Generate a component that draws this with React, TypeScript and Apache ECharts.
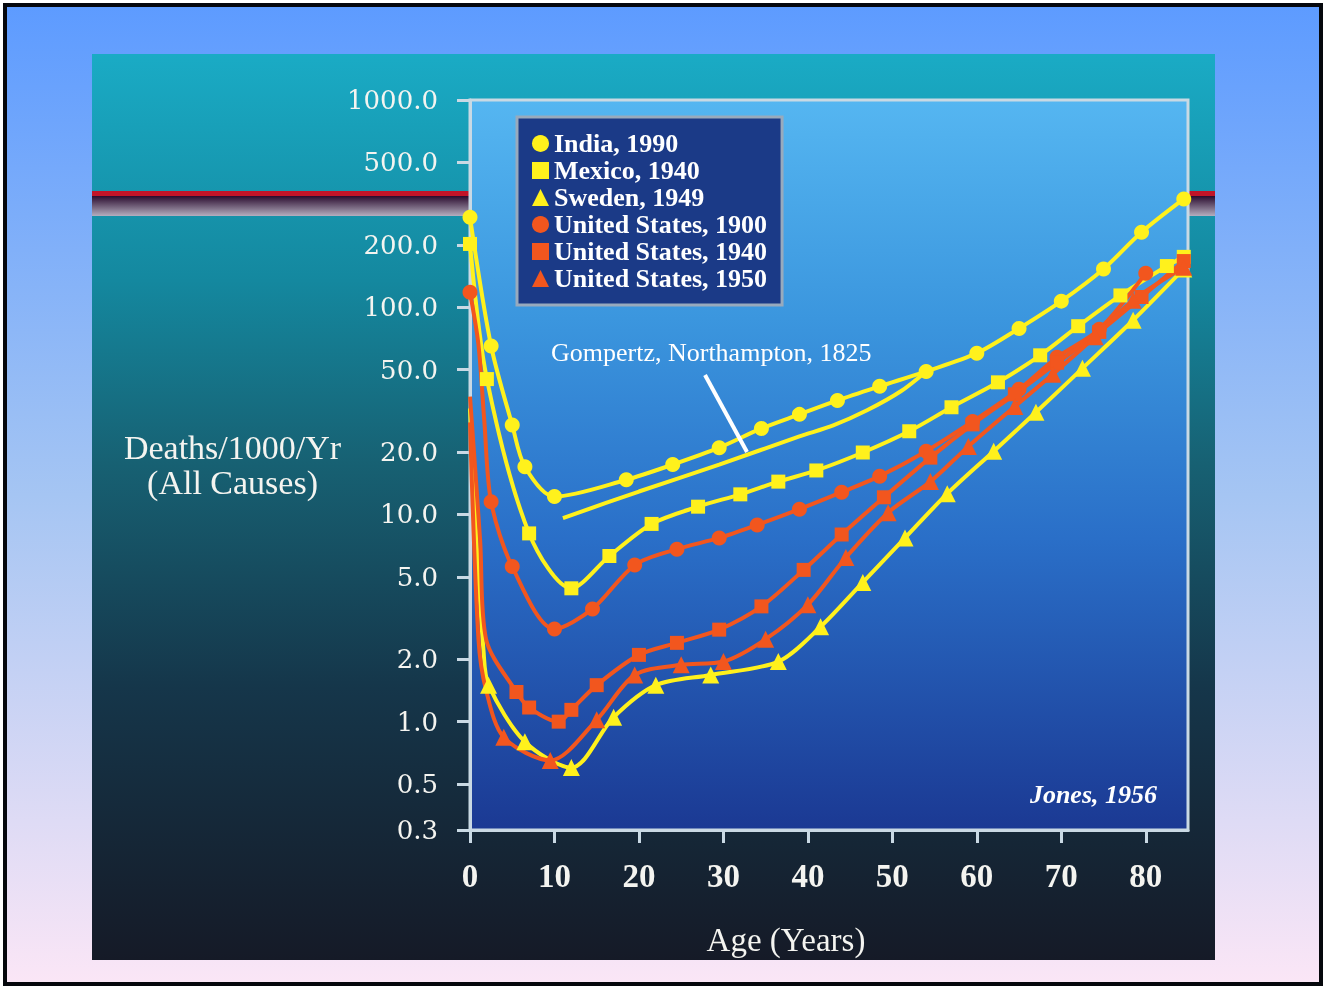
import React, { useEffect, useRef } from 'react';
import * as echarts from 'echarts';

// ---- tick values ----
const yTickValues = [0.3, 0.5, 1, 2, 5, 10, 20, 50, 100, 200, 500, 1000];
const xTickValues = [0, 10, 20, 30, 40, 50, 60, 70, 80];

// ---- series data (age in years, deaths per 1000 per year) ----
// points listed in *Hidden arrays are curve points read off the plot that carry no marker
const indiaAge = [0, 2.5, 5, 6.5, 10, 18.5, 24, 29.5, 34.5, 39, 43.5, 48.5, 54, 60, 65, 70, 75, 79.5, 84.5];
const indiaRate = [272, 65, 27, 17, 12.2, 14.7, 17.4, 21, 26, 30.4, 35.5, 41.5, 49, 60, 79, 107, 153, 230, 333];

const mexicoAge = [0, 2, 7, 12, 16.5, 21.5, 27, 32, 36.5, 41, 46.5, 52, 57, 62.5, 67.5, 72, 77, 82.5, 84.5];
const mexicoRate = [202, 45, 8.1, 4.4, 6.3, 9.0, 10.9, 12.5, 14.4, 16.3, 19.9, 25.2, 32.9, 43.4, 58.6, 81, 114, 158, 175];

const swedenAge = [0, 0.8, 1.6, 2.2, 6.5, 12, 17, 22, 28.5, 36.5, 41.5, 46.5, 51.5, 56.5, 62, 67, 72.5, 78.5, 84.5];
const swedenRate = [32.5, 7.1, 2.2, 1.5, 0.8, 0.6, 1.05, 1.5, 1.68, 1.95, 2.87, 4.7, 7.7, 12.6, 20.2, 31.1, 50.7, 86.5, 153];
const swedenHidden = [0, 1, 2];

const us1900Age = [0, 1, 1.7, 2.5, 5, 10, 14.5, 19.5, 24.5, 29.5, 34, 39, 44, 48.5, 54, 59.5, 65, 69.5, 74.5, 80];
const us1900Rate = [118, 66, 28, 11.5, 5.6, 2.8, 3.5, 5.7, 6.8, 7.7, 8.9, 10.6, 12.8, 15.3, 20.2, 28.1, 40.2, 57.3, 78.3, 146];
const us1900Hidden = [1, 2];

const us1940Age = [0, 1.2, 1.9, 5.5, 7, 10.5, 12, 15, 20, 24.5, 29.5, 34.5, 39.5, 44, 49, 54.5, 59.5, 64.5, 69.5, 74.5, 79.5, 84.5];
const us1940Rate = [37, 7.5, 2.5, 1.39, 1.17, 1.0, 1.14, 1.5, 2.1, 2.4, 2.78, 3.6, 5.4, 8.0, 12.1, 18.8, 27.2, 38, 54, 76, 112, 167];
const us1940Hidden = [0, 1, 2];

const us1950Age = [0, 1, 1.9, 4, 9.5, 15, 19.5, 25, 30, 35, 40, 44.5, 49.5, 54.5, 59, 64.5, 69, 74, 78.5, 84.5];
const us1950Rate = [27.8, 2.5, 1.42, 0.84, 0.65, 1.02, 1.68, 1.88, 1.95, 2.5, 3.67, 6.2, 10.2, 14.4, 21.3, 33.2, 47.5, 72, 108, 156];
const us1950Hidden = [0, 1, 2];

const gompertzAge = [11, 20, 29.5, 39, 43, 47, 51, 54];
const gompertzRate = [9.6, 12.9, 17.4, 23.8, 26.9, 31.8, 39.3, 49];

const YELLOW = '#fff11c';
const ORANGE = '#f2561e';
const AXIS = '#c9d9e4';
const SERIF = '"Liberation Serif", "Times New Roman", serif';
const WIDE_SERIF = '"DejaVu Serif", serif';

function pts(ages: number[], rates: number[], hidden: number[] = []) {
  return ages.map((a, i) =>
    hidden.indexOf(i) >= 0 ? { value: [a, rates[i]], symbol: 'none' } : [a, rates[i]]
  );
}

function lineSeries(name: string, color: string, symbol: string, size: number, data: any[]) {
  return {
    name,
    type: 'line',
    data,
    smooth: 0.3,
    symbol,
    symbolSize: size,
    showSymbol: true,
    clip: false,
    lineStyle: { color, width: 4 },
    itemStyle: { color, borderWidth: 0 },
    emphasis: { disabled: true },
  };
}

export default function App() {
  const ref = useRef<HTMLDivElement>(null);

  useEffect(() => {
    const chart = echarts.init(ref.current!, undefined, { renderer: 'svg' });

    const option: any = {
      animation: false,
      graphic: [
        {
          type: 'rect',
          z: -100,
          silent: true,
          shape: { x: 5, y: 5, width: 1316, height: 979 },
          style: {
            fill: new echarts.graphic.LinearGradient(0, 0, 0, 1, [
              { offset: 0, color: '#5d9bff' },
              { offset: 0.5, color: '#a5c5f3' },
              { offset: 1, color: '#fbe6f6' },
            ]),
            stroke: '#05070c',
            lineWidth: 4,
          },
        },
        {
          type: 'rect',
          z: -99,
          silent: true,
          shape: { x: 92, y: 54, width: 1123, height: 906 },
          style: {
            fill: new echarts.graphic.LinearGradient(0, 0, 0, 1, [
              { offset: 0, color: '#1aabc5' },
              { offset: 0.25, color: '#14889f' },
              { offset: 0.45, color: '#176173' },
              { offset: 0.7, color: '#15364a' },
              { offset: 1, color: '#151a27' },
            ]),
          },
        },
        {
          type: 'rect',
          z: -98,
          silent: true,
          shape: { x: 92, y: 196, width: 1123, height: 20 },
          style: {
            fill: new echarts.graphic.LinearGradient(0, 0, 0, 1, [
              { offset: 0, color: '#2a0b2e' },
              { offset: 1, color: '#b4aebf' },
            ]),
          },
        },
        {
          type: 'rect',
          z: -98,
          silent: true,
          shape: { x: 92, y: 191, width: 1123, height: 5 },
          style: { fill: '#c21428' },
        },
        {
          type: 'text',
          z: 100,
          silent: true,
          x: 551,
          y: 352,
          style: {
            text: 'Gompertz, Northampton, 1825',
            fill: '#ffffff',
            font: '26px ' + SERIF,
            align: 'left',
            verticalAlign: 'middle',
          },
        },
        {
          type: 'line',
          z: 100,
          silent: true,
          shape: { x1: 705, y1: 375, x2: 747, y2: 452 },
          style: { stroke: '#ffffff', lineWidth: 4 },
        },
        {
          type: 'text',
          z: 100,
          silent: true,
          x: 1157,
          y: 794,
          style: {
            text: 'Jones, 1956',
            fill: '#ffffff',
            font: 'italic bold 26px ' + SERIF,
            align: 'right',
            verticalAlign: 'middle',
          },
        },
      ],
      grid: {
        left: 470,
        right: 138,
        top: 100,
        bottom: 159,
        show: true,
        borderColor: AXIS,
        borderWidth: 3,
        backgroundColor: new echarts.graphic.LinearGradient(0, 0, 0, 1, [
          { offset: 0, color: '#55b6f1' },
          { offset: 0.3, color: '#3b96de' },
          { offset: 0.6, color: '#2a6fc8' },
          { offset: 1, color: '#1b3993' },
        ]),
      },
      legend: {
        orient: 'vertical',
        left: 517,
        top: 117,
        selectedMode: false,
        itemWidth: 17,
        itemHeight: 17,
        itemGap: 0,
        backgroundColor: '#1b3a87',
        borderColor: '#98aabd',
        borderWidth: 3,
        padding: [13, 15, 13, 15],
        textStyle: { color: '#ffffff', fontFamily: SERIF, fontSize: 26, fontWeight: 'bold', lineHeight: 27 },
        data: [
          { name: 'India, 1990', icon: 'circle' },
          { name: 'Mexico, 1940', icon: 'rect' },
          { name: 'Sweden, 1949', icon: 'triangle' },
          { name: 'United States, 1900', icon: 'circle' },
          { name: 'United States, 1940', icon: 'rect' },
          { name: 'United States, 1950', icon: 'triangle' },
        ],
      },
      xAxis: {
        type: 'value',
        min: 0,
        max: 85,
        splitLine: { show: false },
        axisLine: { show: true, onZero: false, lineStyle: { color: AXIS, width: 3 } },
        axisTick: { show: true, length: 13, customValues: xTickValues, lineStyle: { color: AXIS, width: 3 } },
        axisLabel: {
          customValues: xTickValues,
          margin: 29,
          color: '#f4f4f0',
          fontFamily: SERIF,
          fontSize: 33,
          fontWeight: 'bold',
        },
        name: 'Age (Years)',
        nameLocation: 'middle',
        nameGap: 93,
        nameTextStyle: {
          color: '#f4f4f0',
          fontFamily: SERIF,
          fontSize: 33,
          padding: [0, 86, 0, 0],
        },
      },
      yAxis: {
        type: 'log',
        logBase: 10,
        min: 0.3,
        max: 1000,
        splitLine: { show: false },
        axisLine: { show: true, lineStyle: { color: AXIS, width: 3 } },
        axisTick: { show: true, length: 13, customValues: yTickValues, lineStyle: { color: AXIS, width: 3 } },
        axisLabel: {
          customValues: yTickValues,
          margin: 32,
          color: '#f4f4f0',
          fontFamily: WIDE_SERIF,
          fontSize: 26,
          formatter: (v: number) => Number(v).toFixed(1),
        },
        name: 'Deaths/1000/Yr\n(All Causes)',
        nameLocation: 'middle',
        nameRotate: 0,
        nameGap: 237,
        nameTextStyle: {
          color: '#f4f4f0',
          fontFamily: SERIF,
          fontSize: 34,
          lineHeight: 35,
          align: 'center',
          verticalAlign: 'middle',
          padding: [6, 0, 0, 0],
        },
      },
      series: [
        {
          name: 'Gompertz, Northampton, 1825',
          type: 'line',
          data: pts(gompertzAge, gompertzRate),
          smooth: 0.3,
          showSymbol: false,
          symbol: 'none',
          clip: false,
          lineStyle: { color: YELLOW, width: 4 },
          itemStyle: { color: YELLOW },
          emphasis: { disabled: true },
        },
        lineSeries('India, 1990', YELLOW, 'circle', 15, pts(indiaAge, indiaRate)),
        lineSeries('Mexico, 1940', YELLOW, 'rect', 14, pts(mexicoAge, mexicoRate)),
        lineSeries('Sweden, 1949', YELLOW, 'triangle', 17, pts(swedenAge, swedenRate, swedenHidden)),
        lineSeries('United States, 1900', ORANGE, 'circle', 15, pts(us1900Age, us1900Rate, us1900Hidden)),
        lineSeries('United States, 1940', ORANGE, 'rect', 14, pts(us1940Age, us1940Rate, us1940Hidden)),
        lineSeries('United States, 1950', ORANGE, 'triangle', 17, pts(us1950Age, us1950Rate, us1950Hidden)),
      ],
    };

    chart.setOption(option);
    return () => chart.dispose();
  }, []);

  return (
    <div
      ref={ref}
      style={{ position: 'fixed', left: 0, top: 0, width: 1326, height: 989 }}
    />
  );
}
